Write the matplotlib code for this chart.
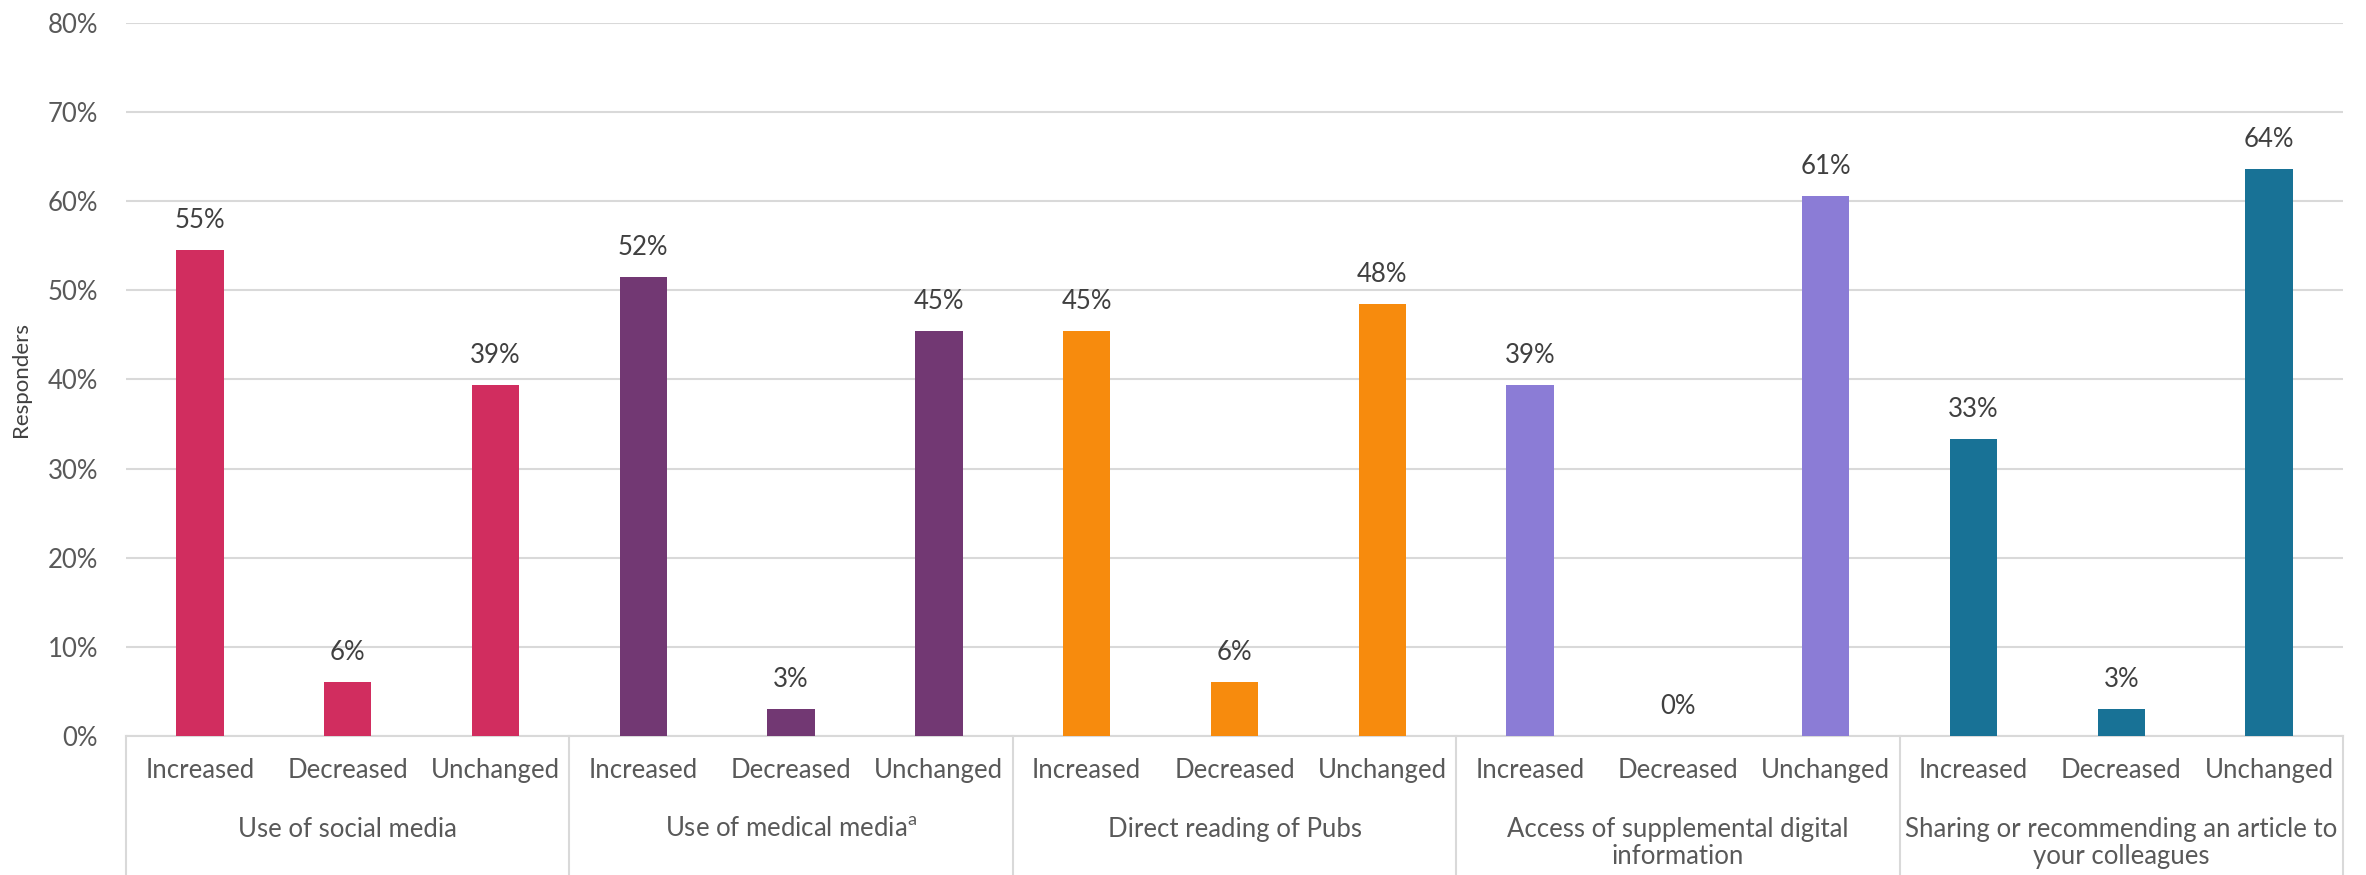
import numpy as np
import matplotlib
matplotlib.use('Agg')
import matplotlib.pyplot as plt
import matplotlib.transforms as mtransforms
from matplotlib.ticker import PercentFormatter

groups = ['Use of social media', r'Use of medical media$^{\mathrm{a}}$', 'Direct reading of Pubs',
          'Access of supplemental digital\ninformation', 'Sharing or recommending an article to\nyour colleagues']
answers = ['Increased', 'Decreased', 'Unchanged']
values = [[54.55, 6.06, 39.39],
          [51.52, 3.03, 45.45],
          [45.45, 6.06, 48.48],
          [39.39, 0.0, 60.61],
          [33.33, 3.03, 63.64]]
colors = ['#D12D5F', '#723873', '#F78B0D', '#8B7CD6', '#187296']

plt.rcParams['font.family'] = ['Lato', 'DejaVu Sans']
plt.rcParams['mathtext.fontset'] = 'custom'
plt.rcParams['mathtext.rm'] = 'Lato'
txt = '#595959'
fs = 18.5

fig = plt.figure(figsize=(23.66, 8.75), dpi=100)
ax = fig.add_axes([126/2366, 1-736/875, (2343-126)/2366, (736-22.7)/875])

x = np.arange(15)
vals = np.array(values).flatten()
cols = np.repeat(colors, 3)
bars = ax.bar(x, vals, width=0.32, color=cols, zorder=3)
ax.bar_label(bars, labels=['%.0f%%' % v for v in vals], padding=12, fontsize=fs, color='#404040')

ax.set_xlim(-0.5, 14.5)
ax.set_ylim(0, 80)
ax.set_yticks(np.arange(0, 81, 10))
ax.yaxis.set_major_formatter(PercentFormatter(decimals=0))
ax.grid(axis='y', color='#D9D9D9', lw=1.5, zorder=0)
for s in ['top', 'right', 'left']:
    ax.spines[s].set_visible(False)
ax.spines['bottom'].set_color('#D9D9D9')
ax.spines['bottom'].set_linewidth(1.5)
ax.tick_params(axis='y', length=0, pad=20, labelsize=fs, labelcolor=txt)
ax.set_xticks([])
ax.set_ylabel('Responders', fontsize=16, color='#404040', labelpad=12)

trans = mtransforms.blended_transform_factory(ax.transData, ax.transAxes)
for b in np.arange(-0.5, 15, 3):
    ax.plot([b, b], [0, -0.2], transform=trans, color='#D9D9D9', lw=1.5, clip_on=False)
for i in range(15):
    ax.text(i, -0.049, answers[i % 3], transform=trans, ha='center', va='center', fontsize=fs, color=txt)
for g, name in enumerate(groups):
    ax.text(3*g + 1, -0.113, name, transform=trans, ha='center', va='top', fontsize=fs, color=txt, linespacing=1.1)

fig.savefig('out.png', dpi=100)
